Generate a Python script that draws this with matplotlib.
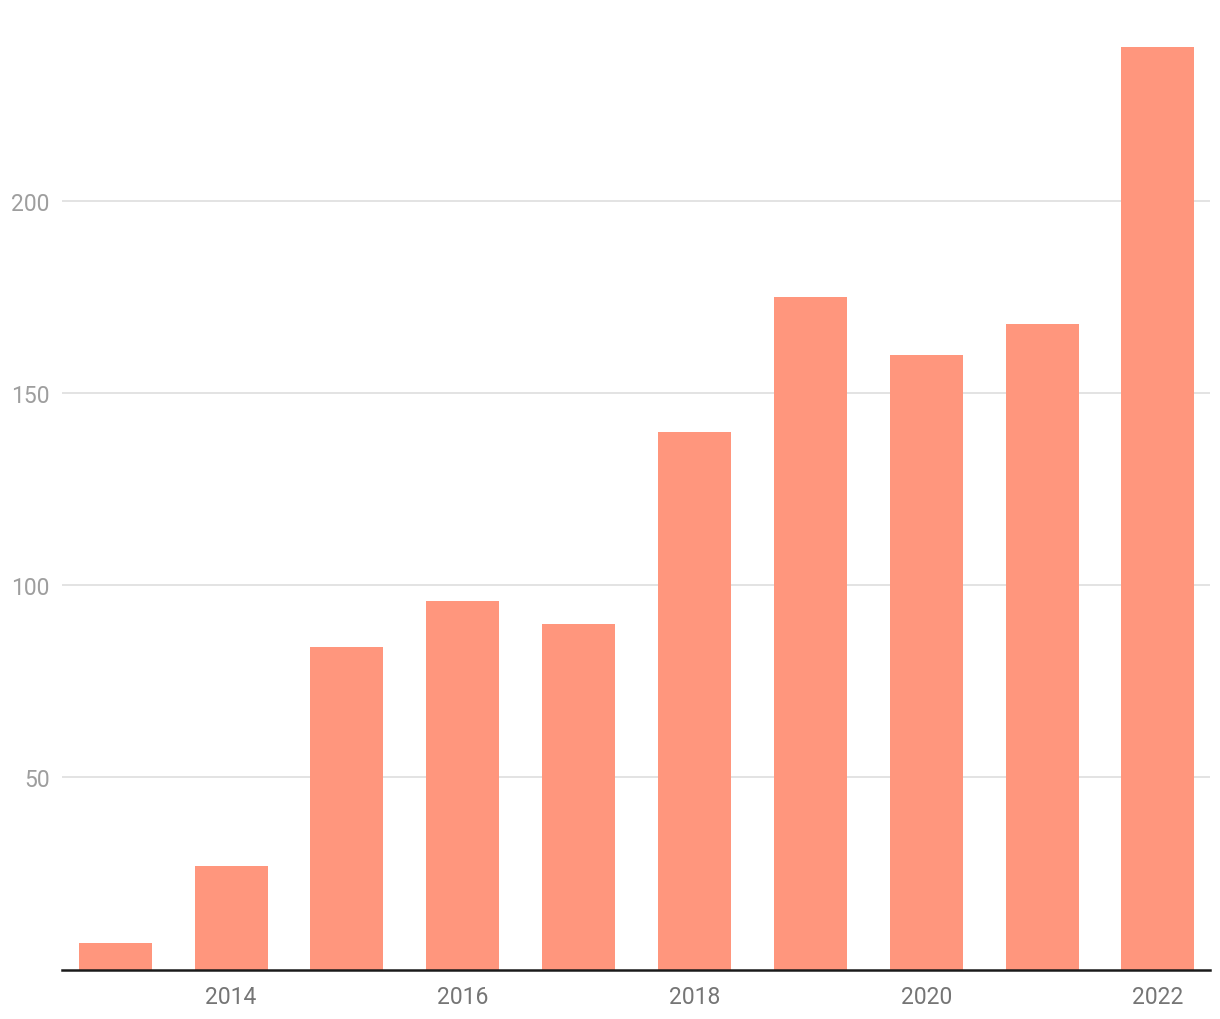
import matplotlib.pyplot as plt

years = [2013, 2014, 2015, 2016, 2017, 2018, 2019, 2020, 2021, 2022]
values = [7, 27, 84, 96, 90, 140, 175, 160, 168, 240]
yticks = [50, 100, 150, 200]
xticks = [2014, 2016, 2018, 2020, 2022]

plt.rcParams['font.family'] = ['Roboto', 'DejaVu Sans']

fig = plt.figure(figsize=(12.2, 10.2), dpi=100)
ax = fig.add_axes([62 / 1220, 49.5 / 1020, 1148 / 1220, 970.5 / 1020])

ax.bar(years, values, width=0.63, color='#FF967D', zorder=2)

ax.set_xlim(2012.54, 2022.45)
ax.set_ylim(0, 252.6)
ax.set_yticks(yticks)
ax.set_yticklabels([str(v) for v in yticks])
ax.set_xticks(xticks)
ax.set_xticklabels([str(v) for v in xticks])

ax.grid(axis='y', color='#E0E0E0', linewidth=1.3, zorder=0)
for s in ['top', 'right', 'left']:
    ax.spines[s].set_visible(False)
ax.spines['bottom'].set_color('#1a1a1a')
ax.spines['bottom'].set_linewidth(1.8)
ax.spines['bottom'].set_zorder(3)

ax.tick_params(axis='y', length=0, pad=9, labelsize=16.5, labelcolor='#9E9E9E')
ax.tick_params(axis='x', length=0, pad=11, labelsize=16.5, labelcolor='#757575')

fig.savefig('out.png', dpi=100)
